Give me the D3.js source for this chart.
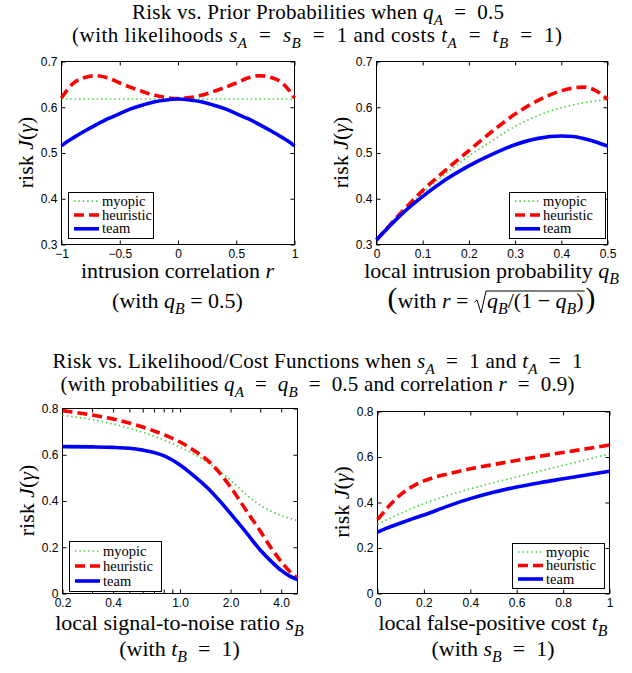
<!DOCTYPE html>
<html><head><meta charset="utf-8">
<script src="https://cdn.jsdelivr.net/npm/d3@7"></script>
<style>body{margin:0;background:#fff} svg{display:block} text{white-space:pre}</style>
</head><body><svg id="c" width="632" height="673"></svg>
<script>
// ---------- DATA ----------
const seriesNames = ["myopic", "heuristic", "team"];

// Panel 1: risk vs intrusion correlation r (q_B = 0.5)
const p1_r = [-1,-0.95,-0.9,-0.8,-0.7,-0.6,-0.5,-0.4,-0.3,-0.2,-0.1,0,0.1,0.2,0.3,0.4,0.5,0.6,0.7,0.8,0.9,0.95,1];
const p1_myopic = [0.618,0.618,0.618,0.618,0.618,0.618,0.618,0.618,0.618,0.618,0.618,0.618,0.618,0.618,0.618,0.618,0.618,0.618,0.618,0.618,0.618,0.618,0.618];
const p1_heuristic = [0.620,0.638,0.652,0.665,0.669,0.664,0.653,0.643,0.634,0.626,0.621,0.619,0.621,0.626,0.634,0.643,0.653,0.664,0.669,0.665,0.652,0.638,0.620];
const p1_team = [0.516,0.525,0.533,0.548,0.562,0.575,0.586,0.597,0.605,0.612,0.616,0.618,0.616,0.612,0.605,0.597,0.586,0.575,0.562,0.548,0.533,0.525,0.516];
const p1_xticks = [-1,-0.5,0,0.5,1];
const p1_xlabels = ["\u22121","\u22120.5","0","0.5","1"];
const p1_yticks = [0.3,0.4,0.5,0.6,0.7];
const p1_ylabels = ["0.3","0.4","0.5","0.6","0.7"];

// Panel 2: risk vs local intrusion probability q_B
const p2_q = [0,0.05,0.1,0.15,0.2,0.25,0.3,0.35,0.4,0.425,0.45,0.475,0.5];
const p2_myopic = [0.31,0.364,0.413,0.455,0.493,0.527,0.558,0.582,0.599,0.605,0.610,0.614,0.617];
const p2_heuristic = [0.31,0.366,0.418,0.463,0.505,0.547,0.585,0.615,0.636,0.642,0.644,0.636,0.617];
const p2_team = [0.31,0.362,0.405,0.442,0.472,0.497,0.518,0.532,0.537,0.536,0.531,0.524,0.515];
const p2_xticks = [0,0.1,0.2,0.3,0.4,0.5];
const p2_xlabels = ["0","0.1","0.2","0.3","0.4","0.5"];
const p2_yticks = [0.3,0.4,0.5,0.6,0.7];
const p2_ylabels = ["0.3","0.4","0.5","0.6","0.7"];

// Panel 3: risk vs local signal-to-noise ratio s_B (log axis)
const p3_s = [0.2,0.3,0.4,0.5,0.6,0.7,0.8,1.0,1.25,1.5,1.75,2.0,2.5,3.0,3.5,4.0,4.5,5.0];
const p3_myopic = [0.770,0.752,0.733,0.714,0.697,0.680,0.664,0.633,0.597,0.562,0.525,0.490,0.425,0.382,0.355,0.337,0.325,0.315];
const p3_heuristic = [0.790,0.772,0.755,0.737,0.720,0.703,0.687,0.655,0.612,0.568,0.515,0.460,0.355,0.270,0.195,0.138,0.095,0.068];
const p3_team = [0.635,0.634,0.632,0.628,0.620,0.610,0.596,0.556,0.500,0.448,0.395,0.345,0.260,0.188,0.138,0.100,0.075,0.060];
const p3_xticks = [0.2,0.4,1,2,4];
const p3_xlabels = ["0.2","0.4","1.0","2.0","4.0"];
const p3_xminor = [0.3,0.5,0.6,0.7,0.8,0.9,3];
const p3_yticks = [0,0.2,0.4,0.6,0.8];
const p3_ylabels = ["0","0.2","0.4","0.6","0.8"];

// Panel 4: risk vs local false-positive cost t_B
const p4_t = [0,0.025,0.05,0.1,0.15,0.2,0.3,0.4,0.5,0.6,0.7,0.8,0.9,1.0];
const p4_myopic = [0.305,0.317,0.329,0.352,0.374,0.395,0.430,0.460,0.487,0.512,0.538,0.563,0.588,0.614];
const p4_heuristic = [0.325,0.355,0.385,0.435,0.470,0.495,0.525,0.548,0.567,0.585,0.603,0.620,0.636,0.653];
const p4_team = [0.270,0.281,0.291,0.310,0.328,0.345,0.383,0.417,0.445,0.468,0.487,0.504,0.521,0.537];
const p4_xticks = [0,0.2,0.4,0.6,0.8,1];
const p4_xlabels = ["0","0.2","0.4","0.6","0.8","1"];
const p4_yticks = [0,0.2,0.4,0.6,0.8];
const p4_ylabels = ["0","0.2","0.4","0.6","0.8"];

// ---------- DRAWING ----------
const SERIF = "'Liberation Serif','Times New Roman',Times,serif";
const SANS = "'Liberation Sans',Arial,Helvetica,sans-serif";
const svg = d3.select("#c");
svg.append("rect").attr("width",632).attr("height",673).attr("fill","#fff");

function parse(str){
  const segs=[]; let buf="", ital=false;
  for(let i=0;i<str.length;i++){
    const c=str[i];
    if(c==='*'){ if(buf) segs.push({t:buf,i:ital}); buf=""; ital=!ital; }
    else if(c==='_'){ if(buf) segs.push({t:buf,i:ital}); buf=""; segs.push({t:str[i+1],i:true,sub:true}); i++; }
    else buf+=c;
  }
  if(buf) segs.push({t:buf,i:ital});
  return segs;
}
function addSegs(t, segs, size){
  let shift=0;
  segs.forEach(s=>{
    const target = s.sub ? size*0.28 : 0;
    const ts = t.append("tspan").text(s.t);
    if(target-shift!==0) ts.attr("dy", target-shift);
    shift = target;
    if(s.sub) ts.attr("font-size", size*0.72);
    if(s.big) ts.attr("font-size", size*s.big);
    if(s.dx) ts.attr("dx", s.dx);
    if(s.i) ts.attr("font-style","italic");
  });
}
function rich(g, segs, x, y, size, anchor){
  const t = g.append("text").attr("x",x).attr("y",y)
    .attr("font-family",SERIF).attr("font-size",size)
    .attr("text-anchor",anchor||"middle").attr("fill","#000");
  addSegs(t, typeof segs==="string" ? parse(segs) : segs, size);
  return t;
}

const styles = {
  myopic:   {color:"#3fcf3f", w:1.7, dash:"1.4,3"},
  heuristic:{color:"#ff0000", w:3.6, dash:"10,5"},
  team:     {color:"#0000ff", w:3.6, dash:null}
};

function panel(cfg){
  const g = svg.append("g");
  const x = (cfg.log ? d3.scaleLog() : d3.scaleLinear()).domain(cfg.xdom).range([cfg.x0+0.5, cfg.x1+0.5]);
  const y = d3.scaleLinear().domain(cfg.ydom).range([cfg.y1+0.5, cfg.y0+0.5]);
  const allX = cfg.xt.concat(cfg.xminor||[]);
  const labX = new Map(cfg.xt.map((v,i)=>[v,cfg.xtl[i]]));
  const labY = new Map(cfg.yt.map((v,i)=>[v,cfg.ytl[i]]));
  const styleAxis = a => {
    a.select(".domain").remove();
    a.selectAll("line").attr("stroke","#000").attr("stroke-width",1);
    a.selectAll("text").attr("font-family",SANS).attr("font-size",12).attr("fill","#000");
  };
  g.append("g").attr("transform",`translate(0,${cfg.y1+0.5})`)
    .call(d3.axisBottom(x).tickValues(allX).tickFormat(d=>labX.has(d)?labX.get(d):"").tickSize(-4).tickPadding(5)).call(styleAxis);
  g.append("g").attr("transform",`translate(0,${cfg.y0+0.5})`)
    .call(d3.axisTop(x).tickValues(allX).tickFormat("").tickSize(-4)).call(styleAxis);
  g.append("g").attr("transform",`translate(${cfg.x0+0.5},0)`)
    .call(d3.axisLeft(y).tickValues(cfg.yt).tickFormat(d=>labY.get(d)).tickSize(-4).tickPadding(4)).call(styleAxis);
  g.append("g").attr("transform",`translate(${cfg.x1+0.5},0)`)
    .call(d3.axisRight(y).tickValues(cfg.yt).tickFormat("").tickSize(-4)).call(styleAxis);
  g.append("rect").attr("x",cfg.x0+0.5).attr("y",cfg.y0+0.5)
    .attr("width",cfg.x1-cfg.x0).attr("height",cfg.y1-cfg.y0)
    .attr("fill","none").attr("stroke","#000").attr("stroke-width",1);

  const line = d3.line().x(d=>x(d[0])).y(d=>y(d[1])).curve(d3.curveMonotoneX);
  seriesNames.forEach(k=>{
    const st = styles[k];
    const pts = cfg.xs.map((v,i)=>[v, cfg.data[k][i]]);
    const p = g.append("path").attr("d", line(pts)).attr("fill","none")
      .attr("stroke", st.color).attr("stroke-width", st.w);
    if(st.dash) p.attr("stroke-dasharray", st.dash);
  });

  // legend
  const [lx,ly,lw,lh] = cfg.leg;
  const lg = g.append("g");
  lg.append("rect").attr("x",lx+0.5).attr("y",ly+0.5).attr("width",lw).attr("height",lh)
    .attr("fill","#fff").attr("stroke","#000").attr("stroke-width",1);
  seriesNames.forEach((k,i)=>{
    const st = styles[k];
    const cy = ly + lh*(0.2+0.3*i);
    const l = lg.append("line").attr("x1",lx+6).attr("x2",lx+31).attr("y1",cy).attr("y2",cy)
      .attr("stroke",st.color).attr("stroke-width",st.w);
    if(st.dash) l.attr("stroke-dasharray",st.dash);
    lg.append("text").attr("x",lx+34).attr("y",cy+4.5).attr("font-family",SERIF)
      .attr("font-size",14.5).attr("fill","#000").text(k);
  });

  // axis labels
  const cx = (cfg.x0+cfg.x1)/2, cyy = (cfg.y0+cfg.y1)/2;
  rich(g, [{t:"risk "},{t:"J",i:true},{t:"("},{t:"\u03B3",i:true},{t:")"}], 0, 0, 22)
    .attr("transform",`translate(${cfg.x0-28},${cyy}) rotate(-90)`);
  rich(g, cfg.lab1, cx, cfg.lab1y, 22);
  if(cfg.lab2) rich(g, cfg.lab2, cx, cfg.lab2y, 22);
  return {g, cx};
}

panel({x0:61,x1:294,y0:61,y1:244, xdom:[-1,1], ydom:[0.3,0.7], xs:p1_r,
  data:{myopic:p1_myopic, heuristic:p1_heuristic, team:p1_team},
  xt:p1_xticks, xtl:p1_xlabels, yt:p1_yticks, ytl:p1_ylabels, leg:[68,192,85,46],
  lab1:"intrusion correlation *r*", lab1y:278, lab2:"(with *q*_B = 0.5)", lab2y:308});

const P2 = panel({x0:376,x1:607,y0:61,y1:244, xdom:[0,0.5], ydom:[0.3,0.7], xs:p2_q,
  data:{myopic:p2_myopic, heuristic:p2_heuristic, team:p2_team},
  xt:p2_xticks, xtl:p2_xlabels, yt:p2_yticks, ytl:p2_ylabels, leg:[509,192,96,46],
  lab1:"local intrusion probability *q*_B", lab1y:278});

// panel 2 second label line with square root
(function(){
  const base = 308, size = 22;
  const segs = [{t:"(",big:1.35},{t:"with "},{t:"r",i:true},{t:" = "},
    {t:"q",i:true,dx:13},{t:"B",i:true,sub:true},{t:"/(1 \u2212 "},{t:"q",i:true},{t:"B",i:true,sub:true},{t:")"},{t:")",big:1.35,dx:2}];
  const t = rich(P2.g, segs, P2.cx, base, size);
  const node = t.node();
  const xr = node.getEndPositionOfChar(9).x;
  const xq = node.getStartPositionOfChar(10).x;
  const xe = node.getEndPositionOfChar(20).x;
  const top = base - 17;
  P2.g.append("path")
    .attr("d",`M${xr+0.5},${base-6} L${xr+3},${base-8} L${xr+7},${base+5} L${xq-1},${top} L${xe+1},${top}`)
    .attr("fill","none").attr("stroke","#000").attr("stroke-width",1);
})();

panel({x0:62,x1:297,y0:408,y1:593, log:true, xdom:[0.2,5], ydom:[0,0.8], xs:p3_s,
  data:{myopic:p3_myopic, heuristic:p3_heuristic, team:p3_team},
  xt:p3_xticks, xtl:p3_xlabels, xminor:p3_xminor, yt:p3_yticks, ytl:p3_ylabels, leg:[69,541,92,50],
  lab1:"local signal-to-noise ratio *s*_B", lab1y:630, lab2:"(with *t*_B  =  1)", lab2y:656});

panel({x0:377,x1:609,y0:411,y1:593, xdom:[0,1], ydom:[0,0.8], xs:p4_t,
  data:{myopic:p4_myopic, heuristic:p4_heuristic, team:p4_team},
  xt:p4_xticks, xtl:p4_xlabels, yt:p4_yticks, ytl:p4_ylabels, leg:[512,543,92,45],
  lab1:"local false-positive cost *t*_B", lab1y:630, lab2:"(with *s*_B  =  1)", lab2y:656});

// titles (math-style spacing around "=", widths matched to the reference)
const tg = svg.append("g");
function title(str, x, y, width){
  const t = rich(tg, str.replace(/ = /g, "  =  "), x, y, 21);
  t.attr("textLength", width).attr("lengthAdjust", "spacing");
}
title("Risk vs. Prior Probabilities when *q*_A = 0.5", 318, 19, 372);
title("(with likelihoods *s*_A = *s*_B = 1 and costs *t*_A = *t*_B = 1)", 317, 42, 490);
title("Risk vs. Likelihood/Cost Functions when *s*_A = 1 and *t*_A = 1", 317.5, 368, 530);
title("(with probabilities *q*_A = *q*_B = 0.5 and correlation *r* = 0.9)", 317.5, 391, 514);
</script></body></html>
